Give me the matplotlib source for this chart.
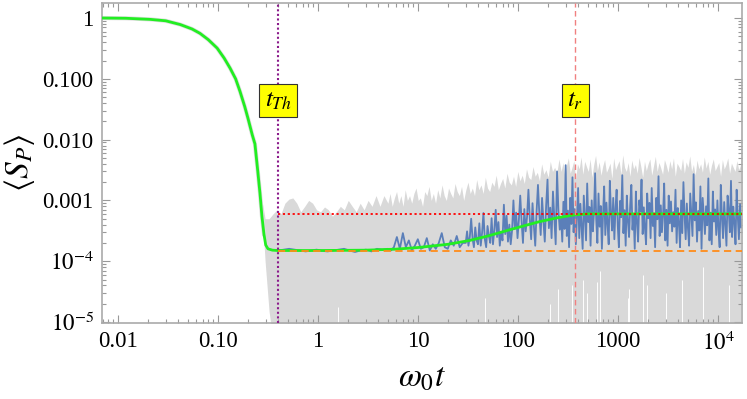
import numpy as np
import matplotlib
matplotlib.use("Agg")
import matplotlib.pyplot as plt
from matplotlib.ticker import LogLocator, NullFormatter, FixedLocator
import matplotlib.transforms as mtransforms

plt.rcParams['font.family'] = ['Liberation Serif', 'DejaVu Serif']
plt.rcParams['mathtext.fontset'] = 'stix'

# ---------------------------------------------------------------- data
# mean <S_P>(t)
green_t = [0.0068, 0.012, 0.021, 0.03, 0.042, 0.055, 0.066, 0.08, 0.098, 0.115,
           0.132, 0.15, 0.166, 0.185, 0.2, 0.22, 0.234, 0.25, 0.263, 0.275,
           0.288, 0.30, 0.316, 0.35, 0.4, 1.0, 3.0, 6.0, 10, 20,
           33, 50, 83, 120, 166, 250, 370, 500, 17500]
green_s = [1.0, 0.99, 0.95, 0.90, 0.78, 0.66, 0.56, 0.44, 0.32, 0.22,
           0.15, 0.10, 0.062, 0.035, 0.022, 0.012, 0.0085, 0.003, 0.0013, 5.5e-4,
           2.8e-4, 1.85e-4, 1.6e-4, 1.52e-4, 1.5e-4, 1.5e-4, 1.52e-4, 1.58e-4, 1.68e-4, 1.9e-4,
           2.2e-4, 2.6e-4, 3.3e-4, 3.9e-4, 4.5e-4, 5.2e-4, 5.8e-4, 6.0e-4, 6.0e-4]

# one realisation (blue), units of 1e-4; each piece sampled log-evenly over its span
blue_spans = [(0.4, 5), (5, 30), (30, 270), (270, 17500)]
blue_a = [1.5, 1.55, 1.6, 1.55, 1.5, 1.45, 1.5, 1.55, 1.48, 1.45,
          1.5, 1.55, 1.6, 1.5, 1.42, 1.5, 1.55, 1.45, 1.6, 1.55]
blue_b = [1.6, 1.5, 1.7, 2.5, 1.6, 2.9, 1.7, 2.2, 1.5, 1.8, 2.3, 1.6, 1.7,
          2.4, 1.5, 1.9, 1.6, 2.0, 2.9, 1.7, 1.6, 2.2, 1.8, 2.6, 1.7, 2.0]
blue_c = [2.0, 3.1, 1.8, 2.5, 5.0, 2.4, 1.7, 3.6, 2.2, 1.9, 4.2, 1.8, 2.9, 6.2, 2.3, 1.7, 3.8, 2.6, 2.0, 5.1,
          1.9, 3.3, 7.0, 2.5, 4.4, 1.8, 3.0, 2.2, 8.5, 2.8, 5.6, 2.1, 4.0, 1.9, 3.2, 10, 3.4, 6.3, 2.4, 4.8,
          12, 4.5, 2.0, 7.2, 3.1, 5.4, 15, 5.0, 2.3, 9.0, 3.8, 1.8, 6.6, 18, 6.0, 2.7, 11, 4.6, 2.1, 8.2,
          22, 3.5, 7.6, 2.4, 14, 5.2, 1.9, 30, 6.8, 3.3]
blue_d = [5.2, 2.1, 9.5, 3.4, 38, 2.6, 6.8, 1.7, 11, 4.1, 24, 3.0, 7.2, 1.9, 5.5, 16, 2.4, 8.8, 3.6, 1.6,
          12, 5.0, 2.2, 19, 4.4, 7.8, 1.8, 10, 3.1, 6.2, 28, 4.8, 2.0, 13, 3.7, 8.1, 1.6, 5.8, 17, 2.7,
          9.2, 4.0, 1.9, 21, 6.5, 3.2, 11, 2.3, 7.4, 15, 3.9, 1.7, 9.8, 5.3, 26, 2.9, 6.9, 1.8, 12, 4.6,
          2.5, 8.4, 18, 3.3, 5.9, 1.6, 14, 4.3, 2.1, 10, 6.6, 22, 2.8, 7.7, 3.5, 1.9, 13, 5.1, 9.1, 2.4,
          16, 3.8, 6.1, 1.7, 11, 4.9, 25, 2.6, 8.3, 3.0, 5.6, 19, 2.2, 7.0, 1.8, 12, 4.2, 9.6, 3.1, 6.4,
          3.7, 15, 2.0, 7.5, 4.4, 1.7, 10, 2.9, 20, 5.7, 2.3, 8.9, 3.5, 1.8, 13, 6.0, 2.6, 27, 4.7, 9.3,
          2.1, 6.7, 3.2, 17, 1.6, 11, 5.4, 2.8, 8.0, 3.9, 23, 2.2, 6.3, 1.9, 14, 4.5, 7.1, 2.7, 10, 3.3,
          1.7, 18, 5.2, 2.4, 9.4, 4.0, 1.8, 12, 6.9, 3.0, 21, 2.5, 7.9, 4.3, 1.9, 15, 5.5, 2.3, 8.6, 3.6]

# upper edge of the cloud of all realisations (gray), units of 1e-4
gray_spans = [(0.27, 5), (5, 270), (270, 17500)]
gray_a = [12, 5, 5, 6, 7, 6, 9, 10.5, 11, 9, 6.5, 8, 10, 9, 7, 6.5, 7.8, 7, 5.5, 6.5,
          8, 7, 10, 8, 6.5, 9, 7, 10, 8, 12, 8, 12]
gray_b = [9, 13, 8, 11, 14, 9, 12, 8, 15, 10, 12, 9, 13, 16, 10, 11, 8, 14, 12, 17,
          10, 13, 9, 15, 11, 18, 12, 10, 16, 13, 11, 19, 14, 12, 17, 10, 15, 20, 13, 16,
          12, 22, 15, 18, 13, 24, 16, 14, 20, 17, 26, 15, 19, 23, 16, 28, 20, 18, 25, 17,
          30, 21, 26, 19, 33, 24, 22, 36, 25, 29, 21, 40, 27, 32, 24, 44, 30, 35, 28, 48]
gray_c = [30, 42, 25, 38, 50, 28, 35, 45, 22, 40, 33, 52, 27, 44, 36, 30, 48, 24, 39, 55,
          31, 43, 26, 37, 47, 29, 34, 41, 23, 50, 32, 38, 45, 27, 56, 35, 30, 42, 25, 46,
          33, 39, 28, 51, 36, 24, 44, 31, 40, 48, 26, 37, 53, 30, 42, 34, 27, 47, 38, 29,
          45, 33, 50, 25, 41, 36, 31, 49, 28, 43, 35, 54, 30, 39, 26, 46, 33, 40, 29, 52,
          34, 44, 27, 38, 48, 31, 36, 42, 25, 47, 33, 39, 50, 28, 41, 35, 30, 45, 32, 38]
# lower edge where the cloud leaves the mean curve (units of 1e-4)
gray_lo_start = [12, 1.0, 0.15, 0.05]
floor_e4 = 0.01

# thin white gaps at the bottom of the cloud: time, top value
gap_t = [1.6, 47, 210, 250, 350, 450, 490, 620, 660, 1250, 1300, 1780, 1950, 3000, 4400, 7100, 13000]
gap_s = [1.8e-5, 2.5e-5, 2.0e-5, 3.5e-5, 4e-5, 5e-5, 3e-5, 4.5e-5, 7e-5, 2.5e-5, 3.5e-5,
         6e-5, 4e-5, 3e-5, 5e-5, 8e-5, 4e-5]

t_th = 0.4
t_r = 375
s_high = 6.0e-4
s_low = 1.5e-4

xticks = [0.01, 0.1, 1, 10, 100, 1000, 1e4]
xlabels = ["0.01", "0.10", "1", "10", "100", "1000", r"$10^{4}$"]
yticks = [1, 0.1, 0.01, 0.001, 1e-4, 1e-5]
ylabels = ["1", "0.100", "0.010", "0.001", r"$10^{-4}$", r"$10^{-5}$"]

# ---------------------------------------------------------------- plot
def pieces(spans, parts):
  ts, vs = [], []
  for (a, b), p in zip(spans, parts):
    ts.append(np.geomspace(a, b, len(p), endpoint=False))
    vs.append(np.array(p, dtype=float))
  return np.concatenate(ts), np.concatenate(vs) * 1e-4

fig = plt.figure(figsize=(7.47, 3.99), dpi=100)
ax = fig.add_axes([102/747, 1 - 323/399, 640/747, 320/399])
ax.set_xscale("log")
ax.set_yscale("log")
xmin, xmax = 10**-2.16, 10**4.24
ymin, ymax = 10**-5.016, 10**0.247

blue_t, blue_s = pieces(blue_spans, [blue_a, blue_b, blue_c, blue_d])
gray_t, gray_hi = pieces(gray_spans, [gray_a, gray_b, gray_c])
gray_lo = np.full(len(gray_t), floor_e4 * 1e-4)
gray_lo[:len(gray_lo_start)] = np.array(gray_lo_start) * 1e-4

ax.fill_between(gray_t, gray_lo, gray_hi, color="#d9d9d9", lw=0, zorder=1)
ax.vlines(gap_t, ymin, gap_s, color="white", lw=0.7, zorder=1.5)
ax.plot(green_t[:21], green_s[:21], color="#dedede", lw=3, zorder=1)
ax.plot(blue_t, blue_s, color="#5b7fb9", lw=1.3, zorder=2)
ax.plot(green_t, green_s, color="#22ee22", lw=2, zorder=3)

ax.plot([t_th, xmax], [s_high, s_high], color="red", ls=(0, (1.2, 1.5)), lw=1.3, zorder=4)
ax.plot([t_th, xmax], [s_low, s_low], color="#ff8c1a", ls=(0, (4, 2.5)), lw=1.3, zorder=4)
ax.axvline(t_th, color="#8b1a8b", ls=(0, (1, 1.2)), lw=1.5, zorder=4)
ax.axvline(t_r, color="#f08080", ls=(0, (4, 2.5)), lw=1.0, zorder=4)

trans = mtransforms.blended_transform_factory(ax.transData, ax.transAxes)
for xx, s in [(t_th, r"$t_{Th}$"), (t_r, r"$t_r$")]:
  ax.text(xx, 0.695, s, transform=trans, ha="center", va="center", fontsize=18, zorder=6,
          bbox=dict(boxstyle="square,pad=0.22", fc="yellow", ec="#333333", lw=0.8))

ax.set_xlim(xmin, xmax)
ax.set_ylim(ymin, ymax)

ax.xaxis.set_major_locator(FixedLocator(xticks))
ax.set_xticklabels(xlabels)
ax.yaxis.set_major_locator(FixedLocator(yticks))
ax.set_yticklabels(ylabels)
for a in (ax.xaxis, ax.yaxis):
  a.set_minor_locator(LogLocator(base=10, subs=np.arange(2, 10), numticks=20))
  a.set_minor_formatter(NullFormatter())
ax.tick_params(which="both", direction="in", top=True, right=True, color="#999999",
               labelsize=16.5, width=0.8)
ax.tick_params(which="major", length=6, pad=6)
ax.tick_params(which="minor", length=3)
for sp in ax.spines.values():
  sp.set_color("#aaaaaa")
  sp.set_linewidth(1.2)

ax.set_xlabel(r"$\omega_{\mathit{0}}t$", fontsize=24, labelpad=6)
ax.set_ylabel(r"$\langle S_P\rangle$", fontsize=24, labelpad=4)

plt.savefig("out.png", dpi=100)
